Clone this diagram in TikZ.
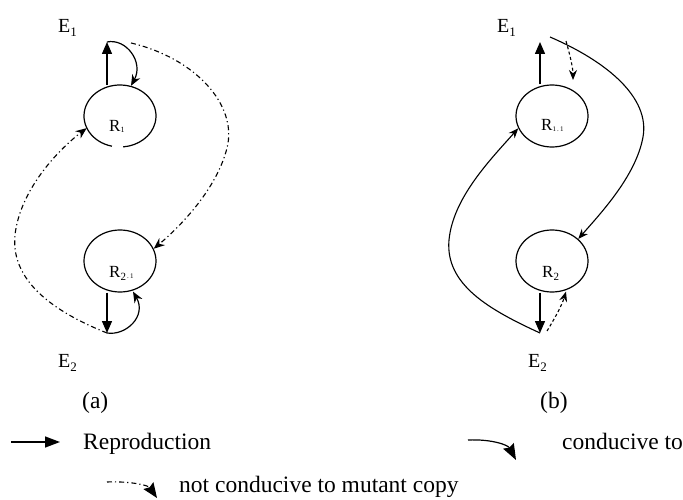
\documentclass[tikz,border=0pt]{standalone}
\usepackage{fontspec}
\setmainfont{Liberation Serif}
\usetikzlibrary{arrows.meta,shapes.geometric}
\begin{document}
\begin{tikzpicture}[x=1pt,y=-1pt,
  ell/.style={ellipse,minimum width=72pt,minimum height=62pt,inner sep=0pt},
  ellline/.style={line width=1.2pt},
  repro/.style={line width=1.4pt,-{Triangle[width=10pt,length=12pt]}},
  reprolg/.style={line width=1.4pt,-{Triangle[width=11pt,length=15pt]}},
  cond/.style={line width=1.2pt,-{Stealth[width=9pt,length=11pt]}},
  condsm/.style={line width=1.1pt,-{Stealth[width=8pt,length=10pt]}},
  condlg/.style={line width=1.2pt,-{Stealth[width=12pt,length=16pt,inset=2pt]}},
  notcond/.style={line width=1.1pt,dash pattern=on 5pt off 3pt on 1.2pt off 3pt,-{Stealth[width=9pt,length=11pt]}},
  notcondlg/.style={line width=1.1pt,dash pattern=on 5pt off 3pt on 1.2pt off 3pt,-{Stealth[width=12pt,length=15pt,inset=2pt]}},
  smalldash/.style={line width=1.1pt,dash pattern=on 3pt off 2.5pt,-{Stealth[width=8pt,length=10pt]}},
  elabel/.style={anchor=base west,inner sep=0pt,font=\fontsize{20}{20}\selectfont},
  rlabel/.style={anchor=base west,inner sep=0pt,font=\fontsize{17}{17}\selectfont},
  txt/.style={anchor=base west,inner sep=0pt,font=\fontsize{23.5}{26}\selectfont},
]
\useasboundingbox (0,0) rectangle (683,500);

% ---------- (a) ----------
\node[elabel] (E1a) at (58,33) {E\raisebox{-4pt}{\fontsize{13}{13}\selectfont 1}};
\node[elabel] (E2a) at (58,367) {E\raisebox{-4pt}{\fontsize{13}{13}\selectfont 2}};
\node[ell] (R1) at (120,116) {};
\draw[ellline] (R1.center) ++(103:36 and 31) arc[start angle=103,end angle=445,x radius=36,y radius=31];
\node[ell,draw,ellline] (R21) at (120,261) {};
\node[rlabel] (R1t) at (109,132) {R\raisebox{-1pt}{\fontsize{8}{8}\selectfont 1}};
\node[rlabel] (R21t) at (109,277) {R\raisebox{-3pt}{\fontsize{11}{11}\selectfont 2}\raisebox{-1pt}{\fontsize{7}{7}\selectfont\,.\,1}};
\coordinate (a1) at (107,42);
\coordinate (a1d) at (131,43);
\coordinate (a2) at (107,333);

\draw[repro] ([xshift=-13pt]R1.north) -- (a1);
\draw[cond] (a1) .. controls (126,38) and (144,62) .. ([xshift=11pt,yshift=-1pt]R1.north);
\draw[notcond] (a1d) .. controls (195,58) and (238,105) .. (227,148) .. controls (217,188) and (182,225) .. (R21.20);
\draw[repro] ([xshift=-13pt]R21.south) -- (a2);
\draw[cond] (a2) .. controls (126,336) and (147,316) .. ([xshift=13pt,yshift=1pt]R21.south);
\draw[notcond] (a2) .. controls (62,315) and (10,285) .. (15,235) .. controls (20,190) and (58,150) .. (R1.200);
\node[txt] (capa) at (82,408) {(a)};

% ---------- (b) ----------
\node[elabel] (E1b) at (497,33) {E\raisebox{-4pt}{\fontsize{13}{13}\selectfont 1}};
\node[elabel] (E2b) at (528,367) {E\raisebox{-4pt}{\fontsize{13}{13}\selectfont 2}};
\node[ell,draw,ellline] (R11) at (552,116) {};
\node[ell,draw,ellline] (R2) at (552,261) {};
\node[rlabel] (R11t) at (541,131) {R\raisebox{-1pt}{\fontsize{7}{7}\selectfont 1\,.\,1}};
\node[rlabel] (R2t) at (542,277) {R\raisebox{-3pt}{\fontsize{11}{11}\selectfont 2}};
\coordinate (b1) at (540,42);
\coordinate (b1s) at (550,37);
\coordinate (b1d) at (566,41);
\coordinate (b1e) at (573,80);
\coordinate (b2) at (540,333);
\coordinate (b2d) at (547,331);

\draw[repro] ([xshift=-12pt]R11.north) -- (b1);
\draw[smalldash] (b1d) .. controls (570,55) and (573,68) .. (b1e);
\draw[condsm] (b1s) .. controls (608,62) and (650,98) .. (643,137) .. controls (636,176) and (600,214) .. (R2.40);
\draw[repro] ([xshift=-12pt]R2.south) -- (b2);
\draw[smalldash] (b2d) .. controls (555,318) and (562,305) .. ([xshift=14pt,yshift=1pt]R2.south);
\draw[condsm] (b2) .. controls (490,310) and (445,285) .. (449,240) .. controls (453,198) and (490,160) .. (R11.200);
\node[txt] (capb) at (540,408) {(b)};

% ---------- legend ----------
\coordinate (lg1s) at (11,442);
\coordinate (lg1e) at (60,442);
\draw[reprolg] (lg1s) -- (lg1e);
\node[txt] (lgrep) at (83,449) {Reproduction};
\coordinate (lg2s) at (468,440);
\coordinate (lg2e) at (516,460);
\draw[condlg] (lg2s) .. controls (492,439) and (508,445) .. (lg2e);
\node[txt] (lgcon) at (562,449) {conducive to};
\coordinate (lg3s) at (107,482);
\coordinate (lg3e) at (157,498);
\draw[notcondlg] (lg3s) .. controls (128,481) and (148,485) .. (lg3e);
\node[txt] (lgnot) at (179,492) {not conducive to mutant copy};
\end{tikzpicture}
\end{document}
